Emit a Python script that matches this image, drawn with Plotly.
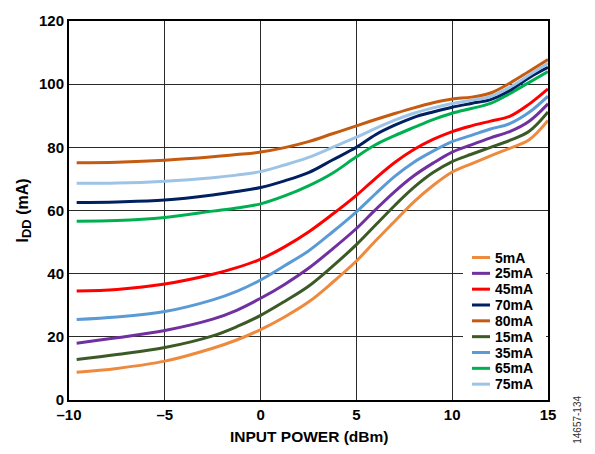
import plotly.graph_objects as go

x_dbm = [-9.6, -7.5, -5, -2.5, -1.25, 0, 1.25, 2.5, 3.75, 5, 6, 7, 8, 9, 10, 11, 12, 13, 14, 15]

series_names = ["5mA", "25mA", "45mA", "70mA", "80mA", "15mA", "35mA", "65mA", "75mA"]

i_5mA  = [8.8, 10.0, 12.3, 16.4, 19.0, 22.3, 26.3, 31.0, 37.2, 44.0, 50.4, 56.6, 62.7, 67.9, 72.2, 74.8, 77.3, 79.7, 82.3, 88.5]
i_15mA = [12.8, 14.4, 16.6, 20.3, 23.2, 26.8, 31.2, 36.0, 42.3, 49.2, 55.4, 61.6, 67.3, 72.0, 75.5, 77.8, 80.0, 82.2, 85.0, 91.2]
i_25mA = [18.0, 19.7, 22.0, 25.6, 28.4, 32.2, 36.6, 41.7, 47.8, 54.3, 60.3, 66.0, 71.0, 75.0, 78.5, 80.8, 83.0, 85.0, 88.2, 93.8]
i_35mA = [25.5, 26.3, 28.0, 31.7, 34.4, 38.0, 42.5, 47.2, 53.2, 59.6, 65.3, 70.8, 75.3, 78.8, 81.8, 83.8, 85.8, 87.5, 91.0, 96.2]
i_45mA = [34.5, 35.0, 36.7, 39.8, 41.9, 44.6, 48.5, 53.2, 58.8, 64.8, 70.2, 75.2, 79.3, 82.5, 85.0, 86.8, 88.3, 89.8, 93.6, 98.5]
i_65mA = [56.6, 56.8, 57.8, 59.8, 60.8, 62.1, 64.6, 67.8, 71.8, 77.0, 80.8, 83.7, 86.3, 88.8, 90.8, 92.3, 93.9, 97.0, 100.5, 104.0]
i_70mA = [62.5, 62.7, 63.3, 64.9, 66.0, 67.3, 69.4, 72.0, 76.0, 80.0, 84.0, 87.0, 89.5, 91.2, 92.7, 93.9, 95.1, 98.0, 102.0, 105.3]
i_75mA = [68.6, 68.7, 69.3, 70.4, 71.2, 72.3, 74.4, 76.8, 80.0, 83.2, 86.0, 88.6, 90.8, 92.5, 93.9, 94.9, 96.1, 99.0, 102.8, 106.6]
i_80mA = [75.1, 75.3, 75.9, 77.0, 77.7, 78.5, 79.9, 81.8, 84.3, 86.8, 88.8, 90.7, 92.5, 94.1, 95.3, 95.9, 97.2, 100.3, 104.0, 107.8]

x_tickvals = [-10, -5, 0, 5, 10, 15]
x_ticktext = ["\u201310", "\u20135", "0", "5", "10", "15"]
y_tickvals = [0, 20, 40, 60, 80, 100, 120]

data_map = {
    "5mA": i_5mA, "25mA": i_25mA, "45mA": i_45mA, "70mA": i_70mA, "80mA": i_80mA,
    "15mA": i_15mA, "35mA": i_35mA, "65mA": i_65mA, "75mA": i_75mA,
}
colors = {
    "5mA": "#EE8A3E", "25mA": "#7030A0", "45mA": "#FF0000", "70mA": "#002060",
    "80mA": "#C55A11", "15mA": "#3B5A26", "35mA": "#5B9BD5", "65mA": "#00B050",
    "75mA": "#9DC3E6",
}
draw_order = ["5mA", "15mA", "25mA", "35mA", "45mA", "65mA", "70mA", "75mA", "80mA"]

fig = go.Figure()
for name in draw_order:
    fig.add_trace(go.Scatter(
        x=x_dbm, y=data_map[name], mode="lines", name=name,
        line=dict(color=colors[name], width=3, shape="spline", smoothing=1.0),
        showlegend=False,
    ))

font_family = "Liberation Sans, Arial, sans-serif"

# plot area geometry in pixels (for the hand-drawn legend)
L, R, T, B = 69, 548, 17, 400
def px_x(p):
    return (p - L) / (R - L)
def px_y(p):
    return (B - p) / (B - T)

shapes = [dict(type="rect", xref="paper", yref="paper",
               x0=px_x(463), x1=px_x(546), y0=px_y(398), y1=px_y(246),
               fillcolor="white", line=dict(width=0), layer="above")]
annotations = []
for i, name in enumerate(series_names):
    yc = px_y(256 + 16 * i)
    shapes.append(dict(type="line", xref="paper", yref="paper",
                       x0=px_x(472), x1=px_x(490), y0=yc, y1=yc,
                       line=dict(color=colors[name], width=3), layer="above"))
    annotations.append(dict(text=name, xref="paper", yref="paper",
                            x=px_x(493), y=yc, xanchor="left", yanchor="middle",
                            showarrow=False,
                            font=dict(size=14, weight="bold", family=font_family)))

annotations += [
    dict(text="INPUT POWER (dBm)", xref="paper", yref="paper",
         x=0.5, y=px_y(437), xanchor="center", yanchor="middle", showarrow=False,
         font=dict(size=15.5, weight="bold", family=font_family)),
    dict(text="I<sub><span style='font-size:13px'>DD</span></sub> (mA)", xref="paper", yref="paper",
         x=px_x(23), y=0.5, xanchor="center", yanchor="middle", showarrow=False,
         textangle=-90,
         font=dict(size=16, weight="bold", family=font_family)),
    dict(text="14657-134", xref="paper", yref="paper",
         x=px_x(578), y=px_y(420), xanchor="center", yanchor="middle", showarrow=False,
         textangle=-90, font=dict(size=10, color="#333333", family=font_family)),
]

fig.update_layout(
    width=595, height=454,
    margin=dict(l=L, r=595 - R, t=T, b=454 - B),
    paper_bgcolor="white", plot_bgcolor="white",
    font=dict(family=font_family, color="black"),
    showlegend=False,
    xaxis=dict(
        range=[-10, 15], tickvals=x_tickvals, ticktext=x_ticktext,
        showgrid=True, gridcolor="#2a2a2a", gridwidth=1.2,
        showline=True, linecolor="black", linewidth=2, mirror=True,
        ticks="", zeroline=False,
        tickfont=dict(size=15, weight="bold", family=font_family),
    ),
    yaxis=dict(
        range=[0, 120], tickvals=y_tickvals,
        showgrid=True, gridcolor="#2a2a2a", gridwidth=1.2,
        showline=True, linecolor="black", linewidth=2, mirror=True,
        ticks="", zeroline=False,
        tickfont=dict(size=15, weight="bold", family=font_family),
    ),
    shapes=shapes,
    annotations=annotations,
)

fig.write_html("out.html", config={"displayModeBar": False},
               post_script="document.body.style.margin='0';document.body.style.padding='0';")
